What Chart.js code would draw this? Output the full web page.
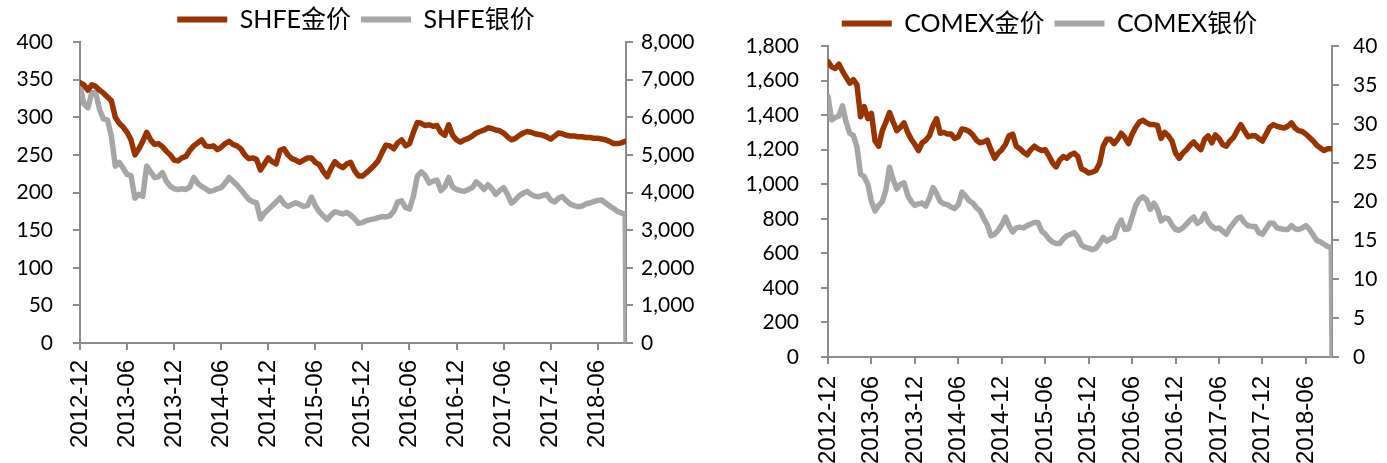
<!DOCTYPE html>
<html><head><meta charset="utf-8">
<script src="https://cdn.jsdelivr.net/npm/chart.js@4.4.0/dist/chart.umd.min.js"></script>
<style>
html,body{margin:0;padding:0;background:#fff;width:1387px;height:463px;overflow:hidden}
#w1{position:absolute;left:0;top:0;width:712px;height:463px}
#w2{position:absolute;left:712px;top:0;width:675px;height:463px}
</style></head><body>
<div id="w1"><canvas id="c1"></canvas></div>
<div id="w2"><canvas id="c2"></canvas></div>
<script>
// x tick labels and their position in months after 2012-12-01
const tickLabels = ['2012-12','2013-06','2013-12','2014-06','2014-12','2015-06','2015-12','2016-06','2016-12','2017-06','2017-12','2018-06'];
const tickMonths = [0,6,12,18,24,30,36,42,48,54,60,66];
// sampling dates: 1st and 16th of every month from 2012-12 to 2018-09, plus last day (~2018-09-19)
const sampleMonths = [];
for (let i = 0; i < 140; i++) sampleMonths.push(i * 0.5);
sampleMonths.push(69.6);

const shfeGold = [
346,343,336,343,341,336,332,327,322,300,
292,287,280,270,250,258,268,280,270,264,
265,261,255,250,243,242,246,248,256,262,
266,270,262,261,262,257,260,265,268,264,
262,258,250,245,246,244,230,238,246,241,
238,256,258,250,245,243,240,243,246,246,
240,237,228,221,232,241,236,233,238,240,
229,222,222,226,231,236,242,253,263,262,
258,266,270,262,265,280,293,292,289,290,
288,289,280,276,290,276,270,267,270,272,
275,279,281,283,286,285,283,282,279,274,
270,272,276,279,281,280,278,277,276,274,
271,275,279,278,276,275,275,274,274,273,
273,272,272,271,270,268,265,265,266,268,
268];
const shfeSilver = [
6850,6350,6250,6650,6650,6200,5950,5930,5500,4700,
4800,4650,4480,4450,3850,3950,3900,4700,4550,4400,
4420,4530,4300,4170,4100,4080,4100,4080,4150,4400,
4250,4160,4100,4030,4050,4100,4130,4250,4400,4300,
4200,4080,3950,3820,3760,3730,3300,3450,3550,3650,
3750,3860,3700,3630,3680,3730,3680,3630,3650,3880,
3650,3490,3380,3280,3400,3490,3460,3430,3470,3400,
3300,3180,3200,3250,3280,3300,3330,3360,3350,3380,
3500,3750,3780,3600,3560,3900,4430,4550,4450,4250,
4300,4330,4050,4150,4400,4150,4080,4050,4030,4080,
4130,4280,4200,4080,4210,4100,3950,4050,4130,3950,
3720,3800,3920,3980,4030,3950,3900,3890,3920,3950,
3800,3750,3850,3890,3780,3690,3650,3620,3640,3700,
3720,3760,3790,3800,3720,3640,3580,3500,3460,3420,
0];
const comexGold = [
1710,1680,1670,1695,1655,1620,1585,1605,1575,1390,
1450,1380,1410,1250,1220,1310,1360,1415,1360,1310,
1330,1355,1300,1260,1230,1195,1240,1255,1280,1340,
1380,1295,1300,1290,1290,1265,1275,1320,1315,1305,
1285,1255,1240,1245,1255,1200,1150,1180,1200,1230,
1280,1290,1220,1205,1185,1170,1200,1220,1205,1195,
1200,1165,1125,1100,1140,1160,1150,1170,1180,1160,
1090,1080,1065,1070,1080,1120,1220,1260,1260,1235,
1260,1295,1270,1235,1290,1330,1360,1370,1355,1345,
1345,1340,1265,1300,1280,1250,1180,1150,1180,1200,
1225,1245,1220,1200,1260,1280,1240,1285,1265,1230,
1220,1250,1270,1310,1345,1310,1275,1280,1280,1265,
1250,1290,1330,1345,1335,1330,1325,1335,1355,1325,
1310,1305,1290,1270,1250,1225,1210,1195,1205,1205,
1205];
const comexSilver = [
33.5,30.5,30.8,31.0,32.3,30.2,28.8,28.5,27.0,23.5,
23.2,22.2,20.0,18.8,19.5,20.0,21.5,24.4,22.8,21.6,
22.2,22.4,20.8,20.0,19.5,19.7,19.8,19.4,20.4,21.8,
21.0,20.0,19.7,19.6,19.3,19.1,19.6,21.2,20.7,20.1,
19.8,19.2,18.8,17.8,17.0,15.6,15.8,16.3,17.0,18.0,
16.9,16.1,16.6,16.7,16.6,16.9,17.1,17.3,17.3,16.2,
15.8,15.2,14.8,14.6,14.6,15.2,15.6,15.8,16.0,15.4,
14.4,14.1,14.0,13.8,14.0,14.6,15.4,14.9,15.2,15.4,
16.8,17.6,16.4,16.5,18.0,19.5,20.3,20.6,20.2,19.0,
19.8,19.0,17.5,17.9,17.8,17.0,16.4,16.3,16.6,17.1,
17.6,18.0,17.2,17.5,18.4,17.4,16.8,16.5,16.6,16.2,
15.8,16.6,17.2,17.8,18.0,17.3,16.9,16.8,16.8,16.0,
15.8,16.5,17.2,17.2,16.6,16.5,16.4,16.4,16.9,16.5,
16.4,16.6,16.9,16.4,15.7,15.0,14.8,14.5,14.2,14.1,
0];

const GOLD = '#993300', SILVER = '#A6A6A6', AXIS = '#8C8C8C';
const yFont = { family: 'Lato, "Noto Sans CJK SC", sans-serif', size: 21 };
const xFont = { family: '"Liberation Sans", Arial, sans-serif', size: 24 };
const legFont = { family: 'Lato, "Noto Sans CJK SC", sans-serif', size: 25 };
const fmt = v => Number(v).toLocaleString('en-US');

function pts(vals) { return vals.map((v, i) => ({ x: sampleMonths[i], y: v })); }

function makeChart(id, names, gold, silver, g) {
  return new Chart(document.getElementById(id), {
    type: 'line',
    data: {
      datasets: [
        { label: names[0], data: pts(gold), borderColor: GOLD, backgroundColor: GOLD, borderWidth: 5.5, pointRadius: 0, yAxisID: 'yL', tension: 0, borderJoinStyle: 'round', borderCapStyle: 'round' },
        { label: names[1], data: pts(silver), borderColor: SILVER, backgroundColor: SILVER, borderWidth: 5.5, pointRadius: 0, yAxisID: 'yR', tension: 0, borderJoinStyle: 'round', borderCapStyle: 'round' }
      ]
    },
    options: {
      responsive: true, maintainAspectRatio: false, animation: false, devicePixelRatio: 1,
      layout: { padding: { top: g.padTop, left: 0, right: 0, bottom: 0 } },
      plugins: {
        tooltip: { enabled: false },
        legend: {
          display: true, position: 'top', align: 'center',
          labels: {
            color: '#000', font: legFont,
            boxWidth: 50, boxHeight: 6, padding: 10,
            generateLabels: chart => {
              const items = Chart.defaults.plugins.legend.labels.generateLabels(chart);
              items.forEach(it => { it.lineWidth = 0; it.strokeStyle = 'rgba(0,0,0,0)'; });
              return items;
            }
          }
        }
      },
      scales: {
        x: {
          type: 'linear', min: 0, max: 69.6,
          afterBuildTicks: s => { s.ticks = tickMonths.map(v => ({ value: v })); },
          afterFit: s => { s.height = g.xH; },
          ticks: {
            autoSkip: false, maxRotation: 90, minRotation: 90, padding: g.xPad,
            color: '#000', font: xFont,
            callback: v => { const i = tickMonths.indexOf(v); return i >= 0 ? tickLabels[i] : ''; }
          },
          grid: { drawOnChartArea: false, drawTicks: true, tickLength: 7, color: AXIS, lineWidth: 2 },
          border: { display: true, color: AXIS, width: 2 }
        },
        yL: {
          position: 'left', min: 0, max: g.lMax,
          afterBuildTicks: s => { const t = []; for (let v = 0; v <= g.lMax; v += g.lStep) t.push({ value: v }); s.ticks = t; },
          afterFit: s => { s.width = g.lW; },
          ticks: { color: '#000', font: yFont, padding: g.yPad, callback: fmt },
          grid: { drawOnChartArea: false, drawTicks: true, tickLength: 7, color: AXIS, lineWidth: 2 },
          border: { display: true, color: AXIS, width: 2 }
        },
        yR: {
          position: 'right', min: 0, max: g.rMax,
          afterBuildTicks: s => { const t = []; for (let v = 0; v <= g.rMax; v += g.rStep) t.push({ value: v }); s.ticks = t; },
          afterFit: s => { s.width = g.rW; },
          ticks: { color: '#000', font: yFont, padding: g.yPadR, callback: fmt },
          grid: { drawOnChartArea: false, drawTicks: true, tickLength: 7, color: AXIS, lineWidth: 2 },
          border: { display: true, color: AXIS, width: 2 }
        }
      }
    }
  });
}

makeChart('c1', ['SHFE金价', 'SHFE银价'], shfeGold, shfeSilver,
  { padTop: -3, xH: 120, xPad: 10, lMax: 400, lStep: 50, lW: 80, rMax: 8000, rStep: 1000, rW: 86, yPad: 20, yPadR: 8 });
makeChart('c2', ['COMEX金价', 'COMEX银价'], comexGold, comexSilver,
  { padTop: 1, xH: 106, xPad: 12, lMax: 1800, lStep: 200, lW: 116, rMax: 40, rStep: 5, rW: 55, yPad: 22, yPadR: 14 });
</script>
</body></html>
